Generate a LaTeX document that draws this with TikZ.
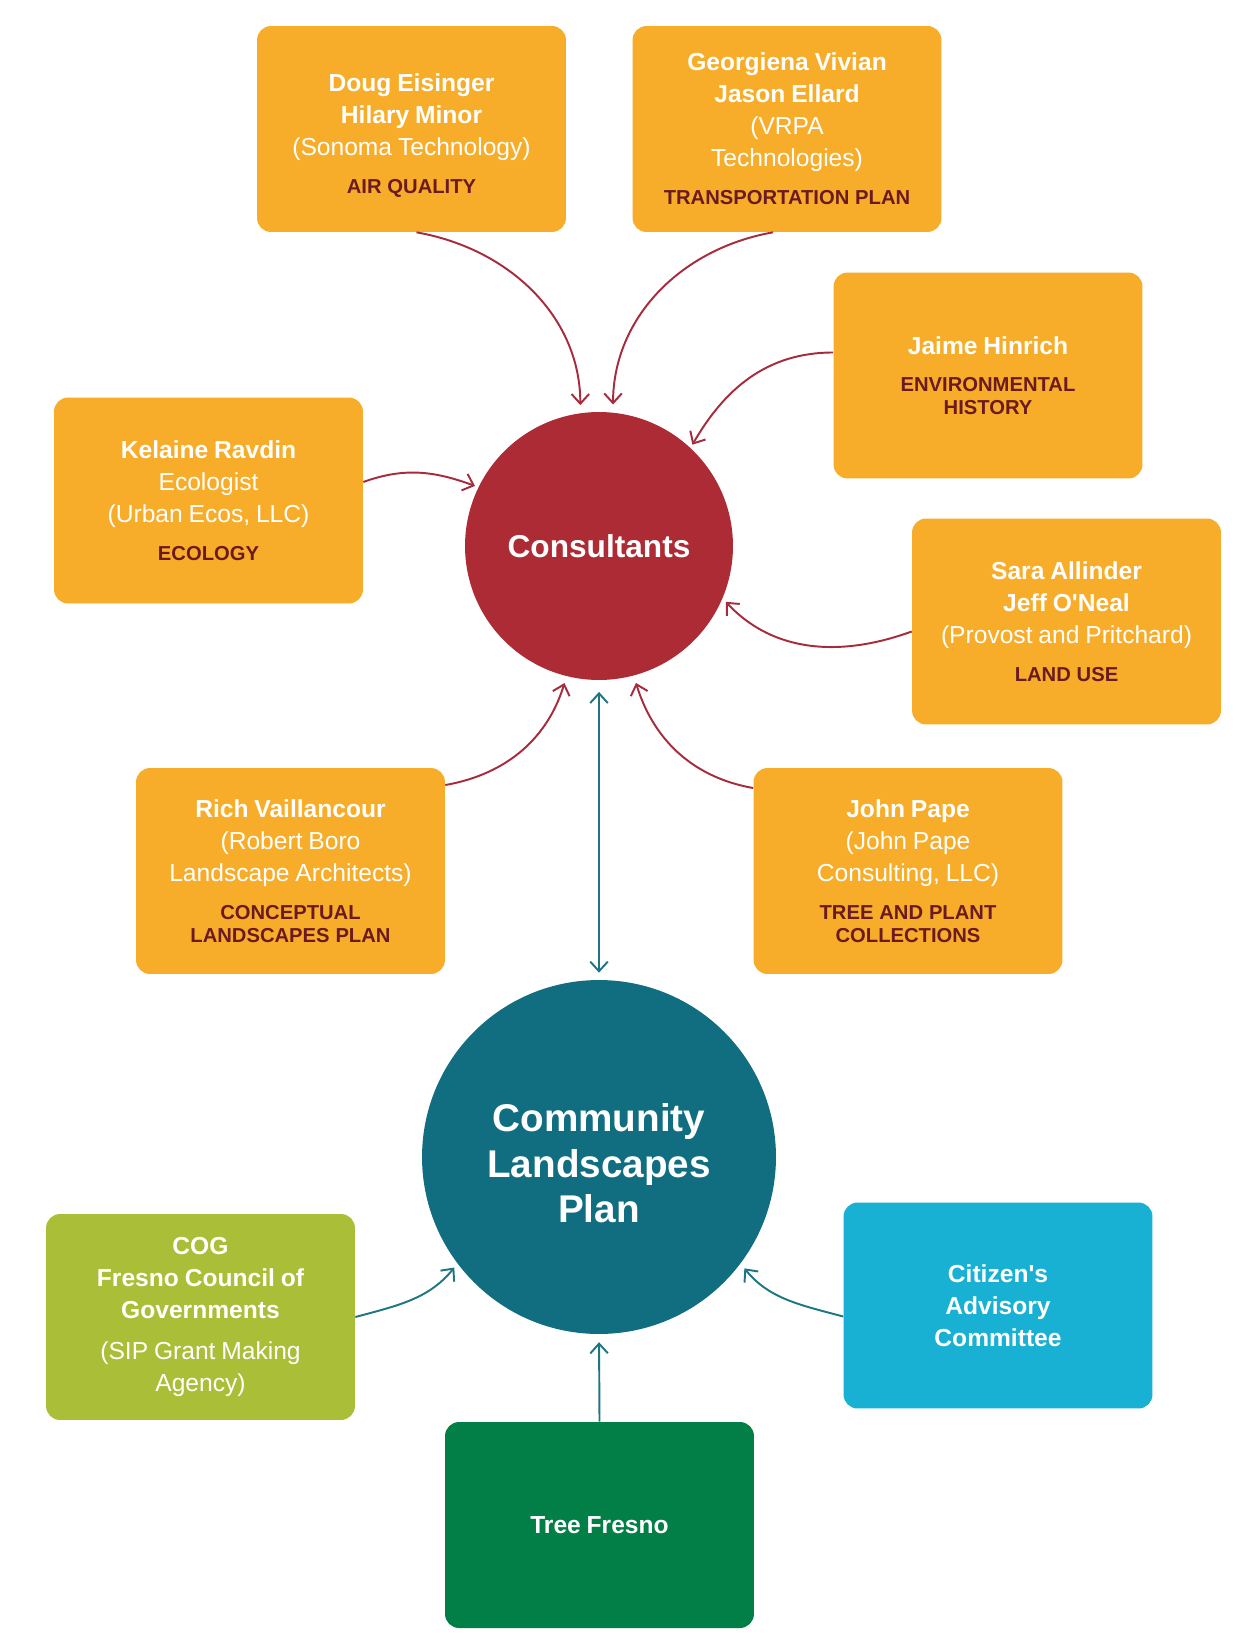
\documentclass[tikz,border=0pt]{standalone}
\usepackage{fontspec}
\setmainfont{Liberation Sans}
\usetikzlibrary{arrows.meta}

\definecolor{boxorange}{HTML}{F7AD29}
\definecolor{consred}{HTML}{AD2B34}
\definecolor{planteal}{HTML}{106E80}
\definecolor{coglime}{HTML}{ABBE37}
\definecolor{cacblue}{HTML}{18B1D4}
\definecolor{treegreen}{HTML}{027F47}
\definecolor{taskred}{HTML}{6C1A21}
\definecolor{linkred}{HTML}{A62B3D}
\definecolor{linkteal}{HTML}{1E7683}

\setlength{\parindent}{0pt}
\newcommand{\pname}[1]{{\fontsize{14}{18.2}\selectfont\bfseries #1\par}}
\newcommand{\pfirm}[1]{{\fontsize{14}{18.2}\selectfont #1\par}}
\newcommand{\ptask}[1]{{\vspace{8.5pt}\fontsize{11.5}{13}\selectfont\bfseries\color{taskred}#1\par}}

\begin{document}
\begin{tikzpicture}[x=0.02cm, y=0.02cm,
    box/.style={rectangle, rounded corners=8pt, fill=boxorange, text=white, minimum width=6.18cm, minimum height=4.12cm, text width=5.9cm, align=center, inner sep=0pt},
    hub/.style={circle, text=white, inner sep=0pt, align=center},
    link/.style={draw=linkred, line width=1.1pt, -{Straight Barb[length=5.5pt, width=10pt]}},
    tlink/.style={draw=linkteal, line width=1.1pt, -{Straight Barb[length=5.5pt, width=10pt]}}]

    \fill[white] (0,0) rectangle (1249,-1638);
    \useasboundingbox (0,0) rectangle (1249,-1638);

    \node[hub, fill=consred, minimum size=5.36cm, font=\fontsize{18}{22}\selectfont\bfseries] (cons) at (599,-546) {Consultants};
    \node[hub, fill=planteal, minimum size=7.08cm, text width=6cm, font=\fontsize{22}{26}\selectfont\bfseries] (comm) at (599,-1157) {\rule{0pt}{23pt}Community\\Landscapes\\Plan};

    \node[box] (doug) at (411.5,-129) {\pname{\rule{0pt}{18pt}Doug Eisinger\\Hilary Minor}\pfirm{(Sonoma Technology)}\ptask{AIR QUALITY}};
    \node[box] (geo) at (787,-129) {\pname{Georgiena Vivian\\Jason Ellard}\pfirm{(VRPA\\Technologies)}\ptask{TRANSPORTATION PLAN}};
    \node[box] (jaime) at (988,-375.5) {\pname{Jaime Hinrich}\ptask{ENVIRONMENTAL\\HISTORY}};
    \node[box] (kelaine) at (208.5,-500.5) {\pname{Kelaine Ravdin}\pfirm{Ecologist\\(Urban Ecos, LLC)}\ptask{ECOLOGY}};
    \node[box] (sara) at (1066.5,-621.5) {\pname{Sara Allinder\\Jeff O\textquotesingle Neal}\pfirm{(Provost and Pritchard)}\ptask{LAND USE}};
    \node[box] (rich) at (290.5,-871) {\pname{Rich Vaillancour}\pfirm{(Robert Boro\\Landscape Architects)}\ptask{CONCEPTUAL\\LANDSCAPES PLAN}};
    \node[box] (john) at (908,-871) {\pname{John Pape}\pfirm{(John Pape\\Consulting, LLC)}\ptask{TREE AND PLANT\\COLLECTIONS}};

    \node[box, fill=coglime] (cog) at (200.5,-1317) {\pname{COG\\Fresno Council of\\Governments}\vspace{5pt}\pfirm{(SIP Grant Making\\Agency)}};
    \node[box, fill=cacblue] (cac) at (998,-1305.5) {\pname{Citizen\textquotesingle s\\Advisory\\Committee}};
    \node[box, fill=treegreen] (tree) at (599.5,-1525) {\pname{Tree Fresno}};

    \draw[link, shorten >=4.5pt] ([xshift=0.1cm]doug.south) to[out=-10, in=90] (cons.98);
    \draw[link, shorten >=4.5pt] ([xshift=-0.28cm]geo.south) to[out=190, in=90] (cons.84);
    \draw[link, shorten >=2pt] ([yshift=0.46cm]jaime.west) to[out=180, in=60] (cons.47);
    \draw[link, shorten >=2pt] ([yshift=0.37cm]kelaine.east) to[out=20, in=160] (cons.154);
    \draw[link, shorten >=2.6pt] ([yshift=-0.2cm]sara.west) to[out=200, in=-47] (cons.-23);
    \draw[link, shorten >=4pt] ([yshift=1.72cm]rich.east) to[out=10, in=-107] (cons.-104);
    \draw[link, shorten >=4.3pt] ([yshift=1.66cm]john.west) to[out=170, in=-73] (cons.-75);

    \draw[tlink, {Straight Barb[length=5.5pt, width=10pt]}-{Straight Barb[length=5.5pt, width=10pt]}, shorten <=6.6pt, shorten >=4pt] (cons.south) -- (comm.north);
    \draw[tlink, shorten >=2.8pt] (cog.east) to[out=15, in=-129] (comm.-143);
    \draw[tlink, shorten >=3.4pt] ([yshift=-0.22cm]cac.west) to[out=165, in=-51] (comm.-37);
    \draw[tlink, shorten >=4.5pt] (tree.north) -- (comm.south);
\end{tikzpicture}
\end{document}
